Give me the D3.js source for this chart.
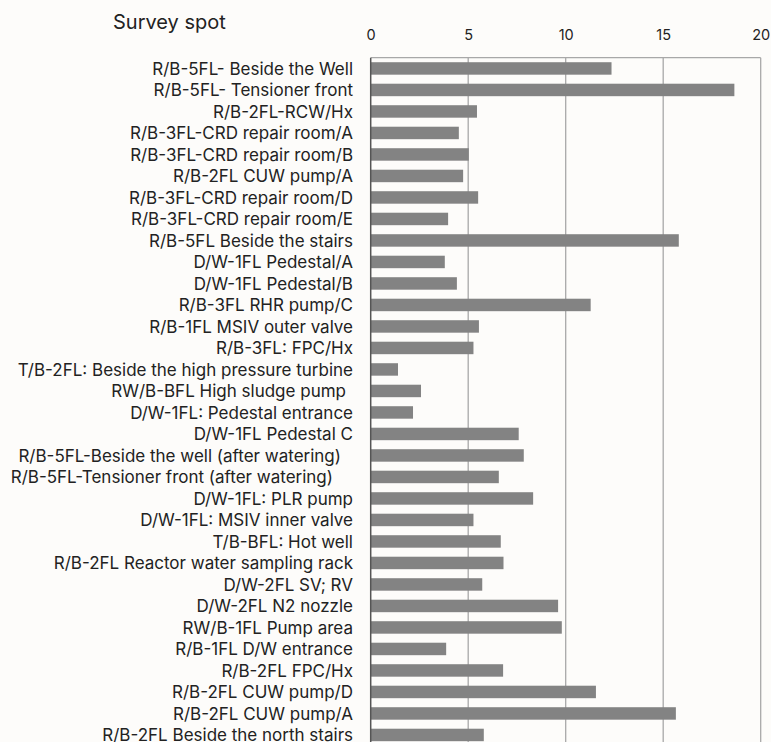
<!DOCTYPE html>
<html>
<head>
<meta charset="utf-8">
<script src="https://cdn.jsdelivr.net/npm/d3@7"></script>
<style>
  html, body { margin: 0; padding: 0; background: #fdfcfa; }
  svg { display: block; }
  text { font-family: Inter, sans-serif; fill: #222; }
</style>
</head>
<body>
<script>
const categories = [
  "R/B-5FL- Beside the Well",
  "R/B-5FL- Tensioner front",
  "R/B-2FL-RCW/Hx",
  "R/B-3FL-CRD repair room/A",
  "R/B-3FL-CRD repair room/B",
  "R/B-2FL CUW pump/A",
  "R/B-3FL-CRD repair room/D",
  "R/B-3FL-CRD repair room/E",
  "R/B-5FL Beside the stairs",
  "D/W-1FL Pedestal/A",
  "D/W-1FL Pedestal/B",
  "R/B-3FL RHR pump/C",
  "R/B-1FL MSIV outer valve",
  "R/B-3FL: FPC/Hx",
  "T/B-2FL: Beside the high pressure turbine",
  "RW/B-BFL High sludge pump",
  "D/W-1FL: Pedestal entrance",
  "D/W-1FL Pedestal C",
  "R/B-5FL-Beside the well (after watering)",
  "R/B-5FL-Tensioner front (after watering)",
  "D/W-1FL: PLR pump",
  "D/W-1FL: MSIV inner valve",
  "T/B-BFL: Hot well",
  "R/B-2FL Reactor water sampling rack",
  "D/W-2FL SV; RV",
  "D/W-2FL N2 nozzle",
  "RW/B-1FL Pump area",
  "R/B-1FL D/W entrance",
  "R/B-2FL FPC/Hx",
  "R/B-2FL CUW pump/D",
  "R/B-2FL CUW pump/A",
  "R/B-2FL Beside the north stairs"
];
const values = [
  12.35, 18.65, 5.45, 4.52, 5.03, 4.74, 5.51, 3.97, 15.8, 3.8, 4.42,
  11.28, 5.55, 5.27, 1.4, 2.58, 2.17, 7.59, 7.85, 6.57, 8.33, 5.27,
  6.67, 6.81, 5.72, 9.61, 9.8, 3.87, 6.79, 11.55, 15.65, 5.8
];
const xTicks = [0, 5, 10, 15, 20];
const axisTitle = "Survey spot";

const W = 771, H = 742;
const mLeft = 370.7, mRight = 760.7, mTop = 57.7, step = 21.5;
const FONT = 'Inter, "Noto Sans", sans-serif';
// small right-edge offsets of a few labels as they sit in the original layout
const labelShift = {15: 7, 18: 12, 19: 20};

const svg = d3.select("body").append("svg").attr("width", W).attr("height", H);
svg.append("rect").attr("width", W).attr("height", H).attr("fill", "#fdfcfa");

const idx = d3.range(categories.length);
const x = d3.scaleLinear().domain([0, 20]).range([mLeft, mRight]);
const y = d3.scaleBand().domain(idx)
  .range([mTop, mTop + step * categories.length])
  .paddingInner(0.42).paddingOuter(0.21);

// gridlines
svg.append("g").selectAll("line").data(xTicks.filter(d => d > 0)).join("line")
  .attr("x1", d => x(d)).attr("x2", d => x(d))
  .attr("y1", mTop).attr("y2", H)
  .attr("stroke", "#a8a8a8").attr("stroke-width", 1.3);

// top border
svg.append("line").attr("x1", mLeft).attr("x2", mRight).attr("y1", mTop).attr("y2", mTop)
  .attr("stroke", "#a8a8a8").attr("stroke-width", 1.3);

// bars
svg.append("g").selectAll("rect").data(values).join("rect")
  .attr("x", x(0))
  .attr("y", (d, i) => y(i))
  .attr("width", d => x(d) - x(0))
  .attr("height", y.bandwidth())
  .attr("fill", "#838383");

// left axis line
svg.append("line").attr("x1", mLeft).attr("x2", mLeft).attr("y1", mTop).attr("y2", H)
  .attr("stroke", "#555").attr("stroke-width", 1.5);

// top axis tick labels
const xAxis = d3.axisTop(x).tickValues(xTicks).tickSize(0).tickPadding(0);
const gx = svg.append("g").attr("transform", `translate(0, 39.5)`).call(xAxis);
gx.select(".domain").remove();
gx.selectAll("text").style("font-family", FONT)
  .style("font-size", "14.5px").attr("fill", "#222");

// category labels
const yAxis = d3.axisLeft(y).tickSize(0).tickPadding(0).tickFormat(i => categories[i]);
const gy = svg.append("g").attr("transform", `translate(353, 0)`).call(yAxis);
gy.select(".domain").remove();
gy.selectAll("text").style("font-family", FONT)
  .style("font-size", "14px").attr("fill", "#222").attr("dy", "0.36em")
  .attr("x", i => -(labelShift[i] || 0));

// fit label font so reference widths are matched (capped so lines don't collide)
const fitIdx = [14, 0, 31];
const targetSum = 345 + 203 + 253;
let sum = 0;
gy.selectAll("text").filter(i => fitIdx.includes(i)).each(function() { sum += this.getComputedTextLength(); });
const fs = Math.min(17, 14 * targetSum / sum);
gy.selectAll("text").style("font-size", fs + "px");

// axis title
svg.append("text").attr("x", 113).attr("y", 29)
  .style("font-family", FONT).style("font-size", "20px").text(axisTitle);
</script>
</body>
</html>
